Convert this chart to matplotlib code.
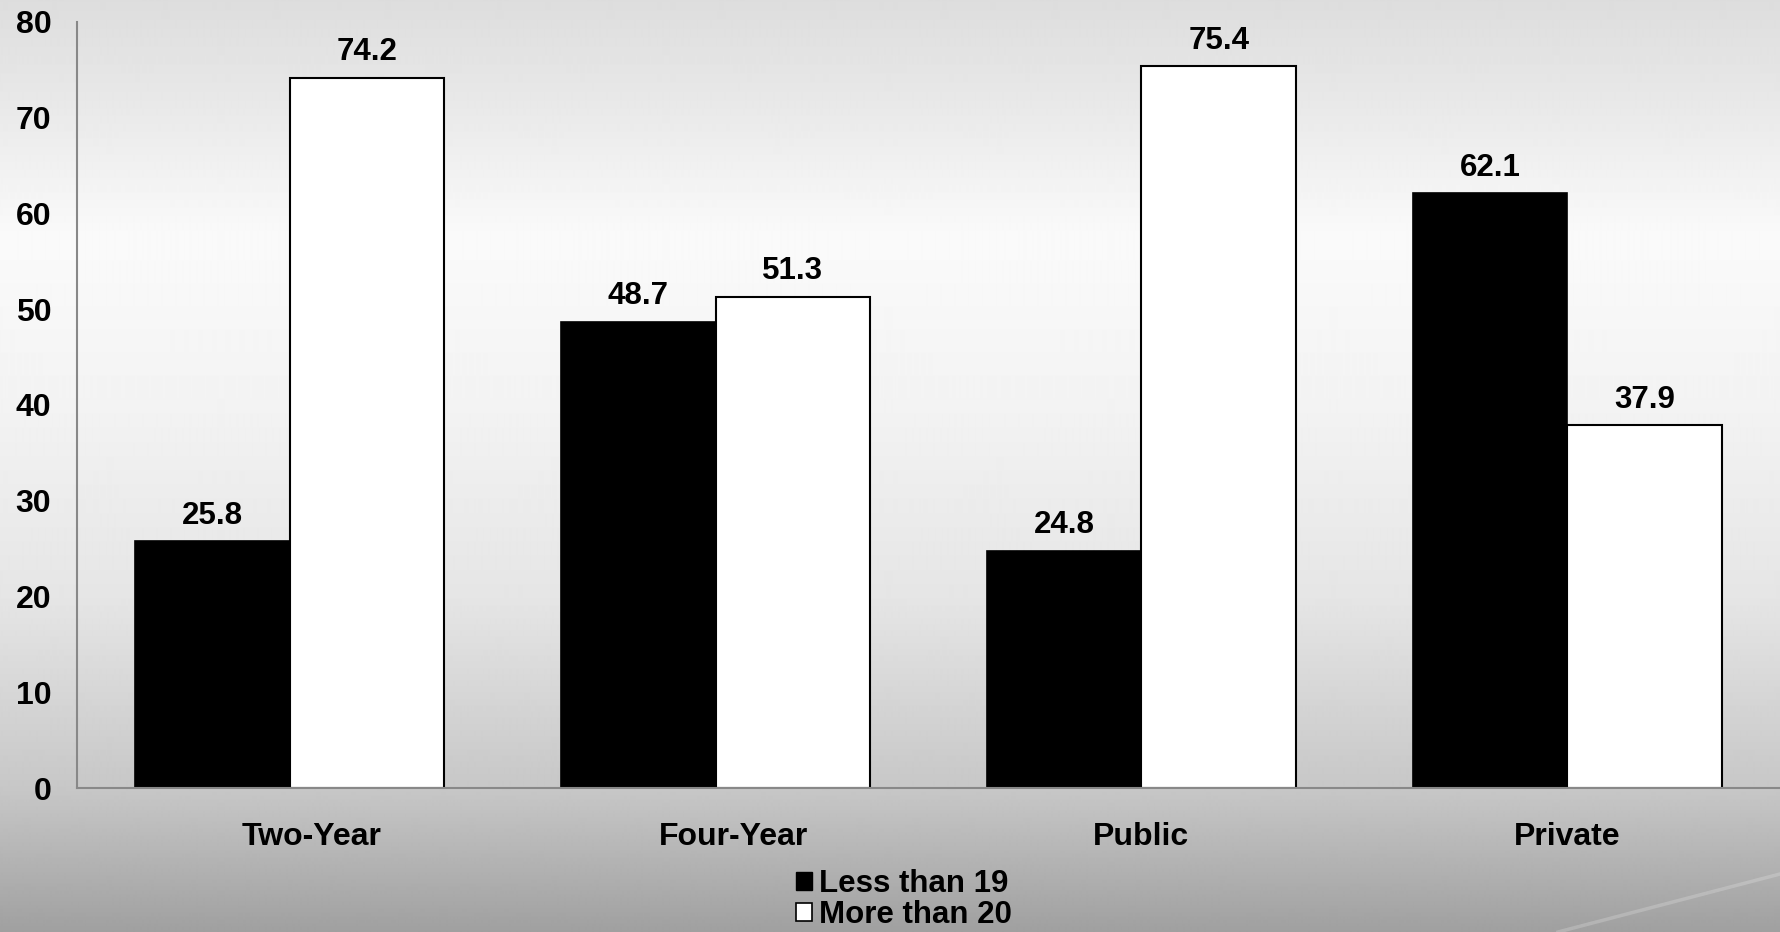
import numpy as np
import matplotlib
matplotlib.use("Agg")
import matplotlib.pyplot as plt
import matplotlib.transforms as mtransforms
from matplotlib.patches import Patch

# Data
categories = ["Two-Year", "Four-Year", "Public", "Private"]
less_than_19 = [25.8, 48.7, 24.8, 62.1]
more_than_20 = [74.2, 51.3, 75.4, 37.9]
series_names = ["Less than 19", "More than 20"]
y_ticks = [0, 10, 20, 30, 40, 50, 60, 70, 80]

plt.rcParams['font.family'] = ['Liberation Sans', 'DejaVu Sans']
plt.rcParams['font.weight'] = 'bold'

W, H = 1780, 932
fig = plt.figure(figsize=(W / 100, H / 100), dpi=100)

# Gray vertical gradient backdrop with a faint light swoosh in the corner
bg = fig.add_axes([0, 0, 1, 1], zorder=0)
stops_y = np.array([0, 100, 238, 400, 600, 788, 800, 932])
stops_v = np.array([221, 232, 250, 243, 229, 199, 196, 160]) / 255
rows = np.interp(np.arange(H), stops_y, stops_v)
img = np.repeat(rows[:, None], 4, axis=1)
bg.imshow(img, cmap='gray', vmin=0, vmax=1, aspect='auto',
          extent=[0, 1, 0, 1], interpolation='bilinear')
bg.plot([1558 / W, 1.0], [0, 1 - 874 / H], color='white', alpha=0.2, lw=2.5)
bg.set_xlim(0, 1)
bg.set_ylim(0, 1)
bg.axis('off')

# Main plot
ax = fig.add_axes([77 / W, 1 - 788 / H, 1 - 77 / W, (788 - 22) / H], zorder=1)
ax.set_facecolor('none')

x = np.arange(len(categories))
w = 0.363
b1 = ax.bar(x - w / 2, less_than_19, w, color='black', edgecolor='black', lw=1.2)
b2 = ax.bar(x + w / 2, more_than_20, w, color='white', edgecolor='black', lw=1.5)
ax.bar_label(b1, fmt='%.1f', padding=7.5, fontsize=22.5, fontweight='bold')
ax.bar_label(b2, fmt='%.1f', padding=7.5, fontsize=22.5, fontweight='bold')

ax.set_xlim(-0.5, 3.5)
ax.set_ylim(0, 80)
ax.set_yticks(y_ticks)
ax.set_xticks(x, categories)
ax.tick_params(axis='y', length=0, pad=18.5, labelsize=23)
ax.tick_params(axis='x', length=0, pad=24.5, labelsize=23)
for lab in ax.get_xticklabels() + ax.get_yticklabels():
    lab.set_fontweight('bold')

# The first two category labels sit slightly right of their groups
label_shift_pt = [15.8, 13.0, 0.0, 0.0]
for lab, dx in zip(ax.get_xticklabels(), label_shift_pt):
    lab.set_transform(lab.get_transform() +
                      mtransforms.ScaledTranslation(dx / 72, 0, fig.dpi_scale_trans))

for s in ('top', 'right'):
    ax.spines[s].set_visible(False)
for s in ('left', 'bottom'):
    ax.spines[s].set_color('#888888')
    ax.spines[s].set_linewidth(1.5)

handles = [Patch(facecolor='black', edgecolor='black', lw=1.0),
           Patch(facecolor='white', edgecolor='black', lw=1.2)]
fig.legend(handles, series_names, loc='center',
           bbox_to_anchor=(904 / W, 1 - 899.5 / H), frameon=False,
           prop={'size': 22.5, 'weight': 'bold'},
           handlelength=0.52, handleheight=0.52, handletextpad=0.22,
           labelspacing=0.04, borderpad=0, borderaxespad=0)

fig.savefig('out.png', dpi=100)
